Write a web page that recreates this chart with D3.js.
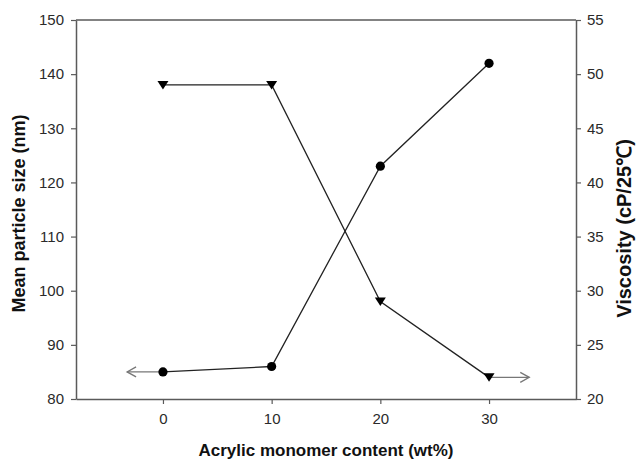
<!DOCTYPE html>
<html>
<head>
<meta charset="utf-8">
<script src="https://cdn.jsdelivr.net/npm/d3@7"></script>
<style>
  html, body { margin: 0; padding: 0; background: #fff; }
  svg { display: block; }
  text { font-family: "Liberation Sans", Arial, sans-serif; }
</style>
</head>
<body>
<svg id="chart" width="636" height="461"></svg>
<script>
// Acrylic monomer content (wt%)
const monomerContent = [0, 10, 20, 30];
// Mean particle size (nm), left axis
const particleSize = [85, 86, 123, 142];
// Viscosity (cP/25℃), right axis
const viscosity = [49, 49, 29, 22];

const xTicks = [0, 10, 20, 30];
const leftTicks = [80, 90, 100, 110, 120, 130, 140, 150];
const rightTicks = [20, 25, 30, 35, 40, 45, 50, 55];

// Arrow end points (x in wt%) showing which axis each series belongs to
const sizeArrowTo = -3.3;
const viscArrowTo = 33.7;

const svg = d3.select("#chart");
const W = 636, H = 461;
const m = { left: 76, right: 60, top: 20, bottom: 62 };
const x0 = m.left, x1 = W - m.right, y0 = H - m.bottom, y1 = m.top;

const x = d3.scaleLinear().domain([-8, 38]).range([x0, x1]);
const yL = d3.scaleLinear().domain([80, 150]).range([y0, y1]);
const yR = d3.scaleLinear().domain([20, 55]).range([y0, y1]);

const axisColor = "#5a5a5a";
const textColor = "#2a2a2a";

// top frame line
svg.append("line")
  .attr("x1", x0).attr("x2", x1).attr("y1", y1).attr("y2", y1)
  .attr("stroke", axisColor).attr("stroke-width", 1.5);

function styleAxis(g) {
  g.select(".domain").attr("stroke", axisColor).attr("stroke-width", 1.5);
  g.selectAll(".tick line").attr("stroke", axisColor).attr("stroke-width", 1.2);
  g.selectAll(".tick text").attr("fill", textColor)
    .style("font-size", "15px").style("font-family", "'Liberation Sans', Arial, sans-serif");
}

svg.append("g").attr("transform", `translate(0,${y0})`)
  .call(d3.axisBottom(x).tickValues(xTicks).tickSize(5).tickSizeOuter(0).tickPadding(9))
  .call(styleAxis);

svg.append("g").attr("transform", `translate(${x0},0)`)
  .call(d3.axisLeft(yL).tickValues(leftTicks).tickSize(5).tickSizeOuter(0).tickPadding(7))
  .call(styleAxis);

svg.append("g").attr("transform", `translate(${x1},0)`)
  .call(d3.axisRight(yR).tickValues(rightTicks).tickSize(5).tickSizeOuter(0).tickPadding(6))
  .call(styleAxis);

// axis titles
svg.append("text")
  .attr("x", (x0 + x1) / 2).attr("y", 456)
  .attr("text-anchor", "middle")
  .attr("font-weight", "bold").attr("font-size", 17).attr("fill", "#111")
  .text("Acrylic monomer content (wt%)");

svg.append("text")
  .attr("transform", `translate(25,${(y0 + y1) / 2 + 4}) rotate(-90)`)
  .attr("text-anchor", "middle")
  .attr("font-weight", "bold").attr("font-size", 18).attr("fill", "#111")
  .text("Mean particle size (nm)");

svg.append("text")
  .attr("transform", `translate(616,${(y0 + y1) / 2 + 19}) rotate(-90)`)
  .attr("text-anchor", "middle")
  .attr("dy", "0.75em")
  .attr("font-weight", "bold").attr("font-size", 20).attr("fill", "#111")
  .text("Viscosity (cP/25℃)");

// arrows pointing to each series' axis
const arrowColor = "#777";
function arrow(xa, ya, xb) {
  svg.append("line")
    .attr("x1", xa).attr("y1", ya).attr("x2", xb).attr("y2", ya)
    .attr("stroke", arrowColor).attr("stroke-width", 1.3);
  const dir = xb < xa ? 1 : -1;
  svg.append("path")
    .attr("d", `M${xb + dir * 9},${ya - 5}L${xb},${ya}L${xb + dir * 9},${ya + 5}`)
    .attr("fill", "none").attr("stroke", arrowColor).attr("stroke-width", 1.3);
}
arrow(x(monomerContent[0]), yL(particleSize[0]), x(sizeArrowTo));
const last = monomerContent.length - 1;
arrow(x(monomerContent[last]), yR(viscosity[last]), x(viscArrowTo));

// series lines
const sizePts = monomerContent.map((c, i) => [x(c), yL(particleSize[i])]);
const viscPts = monomerContent.map((c, i) => [x(c), yR(viscosity[i])]);
const line = d3.line();

svg.append("path").attr("d", line(sizePts))
  .attr("fill", "none").attr("stroke", "#222").attr("stroke-width", 1.3);
svg.append("path").attr("d", line(viscPts))
  .attr("fill", "none").attr("stroke", "#222").attr("stroke-width", 1.3);

// markers: filled circles (particle size), filled down-triangles (viscosity)
svg.selectAll("circle.size").data(sizePts).join("circle")
  .attr("class", "size")
  .attr("cx", d => d[0]).attr("cy", d => d[1]).attr("r", 4.6)
  .attr("fill", "#000");

svg.selectAll("path.visc").data(viscPts).join("path")
  .attr("class", "visc")
  .attr("d", d => `M${d[0] - 5.5},${d[1] - 4}L${d[0] + 5.5},${d[1] - 4}L${d[0]},${d[1] + 4.5}Z`)
  .attr("fill", "#000");
</script>
</body>
</html>
